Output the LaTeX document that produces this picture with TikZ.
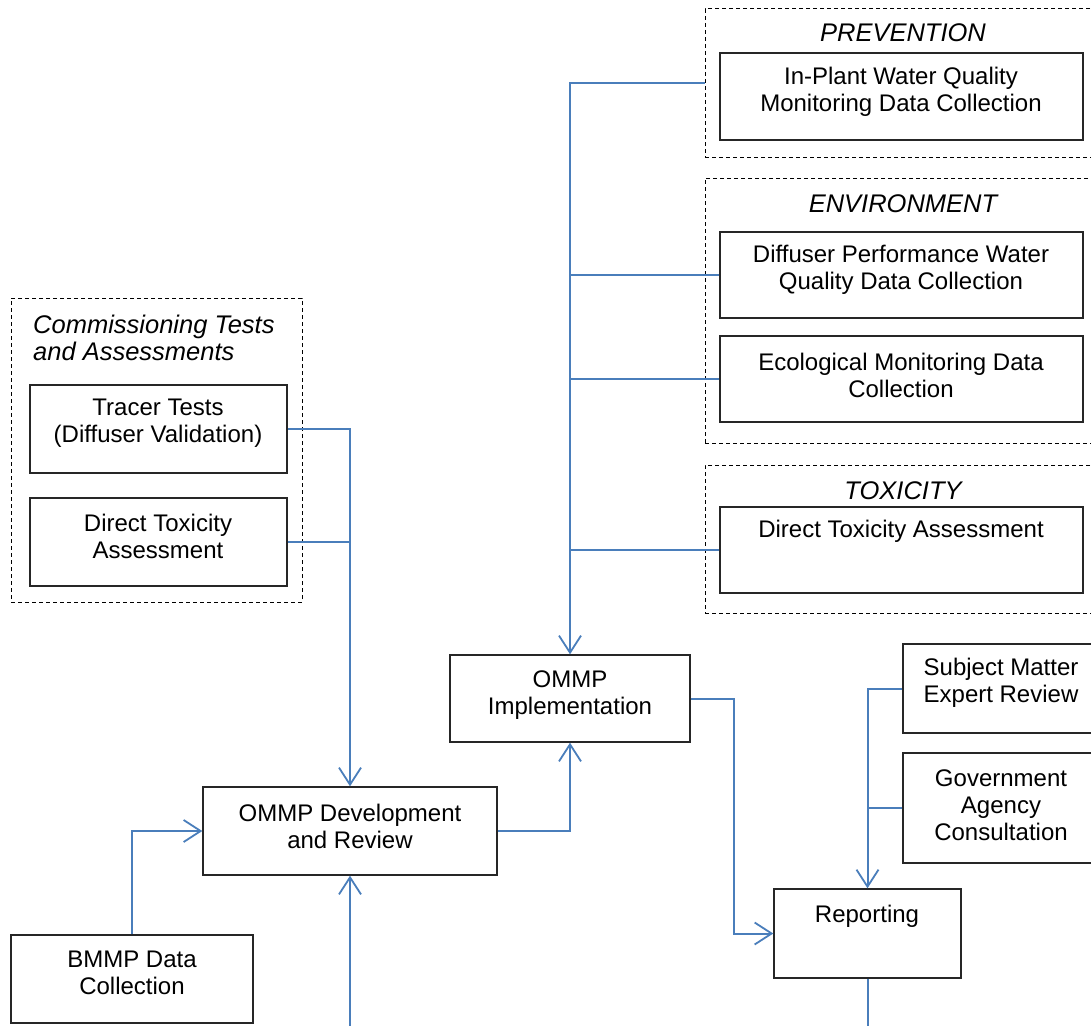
\documentclass[tikz,border=0pt]{standalone}
\usepackage{fontspec}
\setmainfont{Liberation Sans}
\usetikzlibrary{arrows.meta}
\definecolor{connblue}{RGB}{74,126,187}
\definecolor{boxline}{RGB}{38,38,38}
\tikzset{
  solidbox/.style={draw=boxline, line width=1.4pt, rectangle, inner sep=0pt},
  groupbox/.style={draw=black, line width=1pt, dash pattern=on 4pt off 3pt, rectangle, inner sep=0pt},
  txt/.style={inner sep=0pt, align=center, font=\fontsize{24}{27}\selectfont},
  ttl/.style={inner sep=0pt, align=center, font=\fontsize{25.5}{27}\selectfont\itshape},
  conn/.style={draw=connblue, line width=2pt},
  arr/.style={conn, -{Straight Barb[length=17pt,width=22pt,line width=1.8pt]}}
}
\begin{document}
\begin{tikzpicture}[x=1pt,y=-1pt]
\useasboundingbox (0,0) rectangle (1091,1025);
% group boxes
\node[groupbox, minimum width=395pt, minimum height=148pt] (prev) at (902.5,83) {};
\node[groupbox, minimum width=395pt, minimum height=265pt] (env) at (902.5,310.5) {};
\node[groupbox, minimum width=395pt, minimum height=148pt] (tox) at (902.5,539) {};
\node[groupbox, minimum width=291pt, minimum height=304pt] (comm) at (156.5,450) {};
% titles
\node[ttl] (prevt) at (903,33) {PREVENTION};
\node[ttl] (envt) at (903,204) {ENVIRONMENT};
\node[ttl] (toxt) at (903,491) {TOXICITY};
\node[ttl, align=left, anchor=west] (commt) at (33,338) {Commissioning Tests\\and Assessments};
% solid boxes
\node[solidbox, minimum width=363pt, minimum height=87pt] (ipw) at (901.5,96.5) {};
\node[solidbox, minimum width=363pt, minimum height=86pt] (diff) at (901.5,275) {};
\node[solidbox, minimum width=363pt, minimum height=86pt] (eco) at (901.5,379) {};
\node[solidbox, minimum width=363pt, minimum height=86pt] (dtar) at (901.5,550) {};
\node[solidbox, minimum width=257pt, minimum height=88pt] (tracer) at (158.5,429) {};
\node[solidbox, minimum width=257pt, minimum height=88pt] (dtal) at (158.5,542) {};
\node[solidbox, minimum width=240pt, minimum height=87pt] (impl) at (570,698.5) {};
\node[solidbox, minimum width=294pt, minimum height=88pt] (dev) at (350,831) {};
\node[solidbox, minimum width=242pt, minimum height=88pt] (bmmp) at (132,979) {};
\node[solidbox, minimum width=197pt, minimum height=89pt] (sme) at (1001.5,688.5) {};
\node[solidbox, minimum width=197pt, minimum height=110pt] (gov) at (1001.5,808) {};
\node[solidbox, minimum width=187pt, minimum height=89pt] (rep) at (867.5,933.5) {};
% texts
\node[txt] (ipwt) at (901,92) {In-Plant Water Quality\\Monitoring Data Collection};
\node[txt] (difft) at (901,270) {Diffuser Performance Water\\Quality Data Collection};
\node[txt] (ecot) at (901,375) {Ecological Monitoring Data\\Collection};
\node[txt] (dtart) at (901,531) {Direct Toxicity Assessment};
\node[txt] (tracert) at (158,423) {Tracer Tests\\(Diffuser Validation)};
\node[txt] (dtalt) at (158,536) {Direct Toxicity\\Assessment};
\node[txt] (implt) at (570,695) {OMMP\\Implementation};
\node[txt] (devt) at (350,826) {OMMP Development\\and Review};
\node[txt] (bmmpt) at (132,973) {BMMP Data\\Collection};
\node[txt] (smet) at (1001,683) {Subject Matter\\Expert Review};
\node[txt] (govt) at (1001,805) {Government\\Agency\\Consultation};
\node[txt] (rept) at (867,916) {Reporting};
% free ends
\coordinate (devin) at (350,1030);
\coordinate (repout) at (867.5,1030);
% connectors
\draw[arr] (prev.west) -| (impl.north);
\draw[conn] (diff.west) -- (diff.west -| impl.north);
\draw[conn] (eco.west) -- (eco.west -| impl.north);
\draw[conn] (dtar.west) -- (dtar.west -| impl.north);
\draw[arr] (tracer.east) -| (dev.north);
\draw[conn] (dtal.east) -- (dtal.east -| dev.north);
\draw[arr] (bmmp.north) |- (dev.west);
\draw[arr] (devin) -- (dev.south);
\draw[arr] (dev.east) -| (impl.south);
\draw[arr] (impl.east) -- ++(43,0) |- (rep.west);
\draw[arr] (sme.west) -| (rep.north);
\draw[conn] (gov.west) -- (gov.west -| rep.north);
\draw[conn] (rep.south) -- (repout);
\end{tikzpicture}
\end{document}
